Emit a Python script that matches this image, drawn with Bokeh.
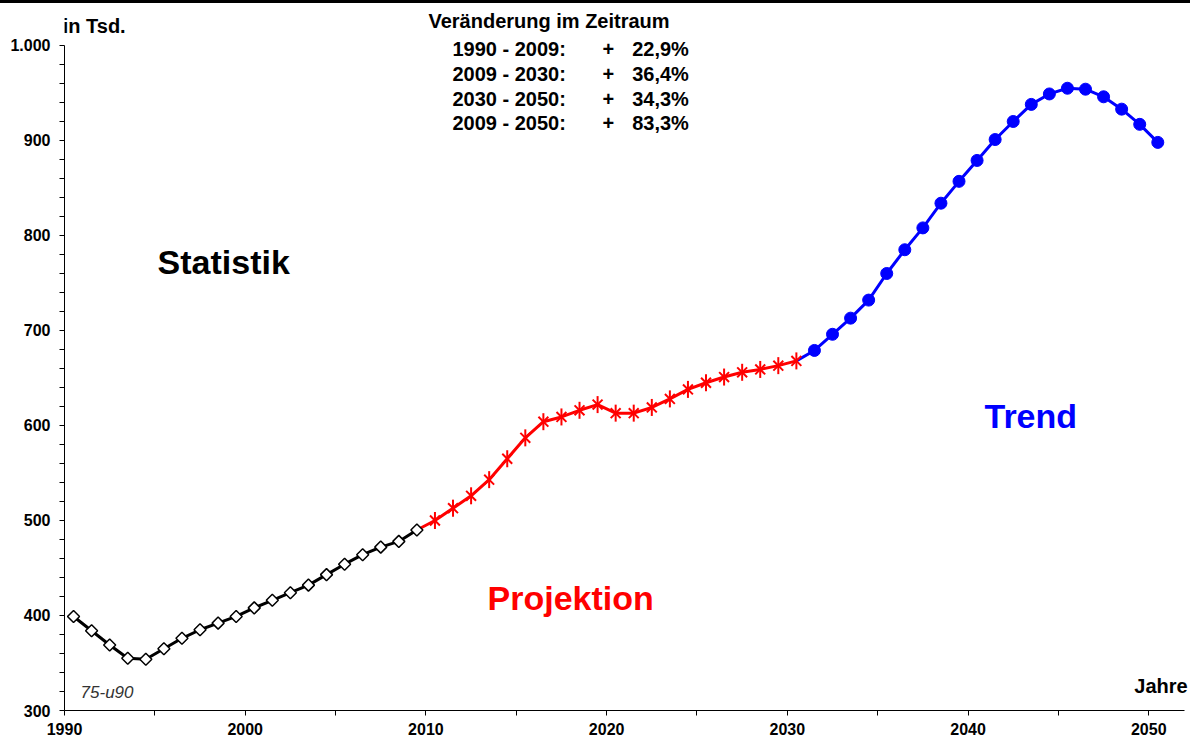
import math
from bokeh.plotting import figure
from bokeh.models import FixedTicker, Label, Range1d, Div
from bokeh.layouts import column
from bokeh.embed import file_html
from bokeh.resources import INLINE

# ---- data (thousands) ----
years_stat = list(range(1990, 2010))
vals_stat = [399, 384, 369, 355, 354, 365, 376, 385, 392, 399,
             408, 416, 424, 432, 443, 454, 464, 472, 478, 490]

years_proj = list(range(2010, 2031))
vals_proj = [500, 513, 526, 543, 565, 587, 604, 609, 616, 622,
             613, 613, 619, 628, 638, 645, 651, 656, 659, 663, 668]

years_trend = list(range(2031, 2051))
vals_trend = [679, 696, 713, 732, 760, 785, 808, 834, 857, 879,
              901, 920, 938, 949, 955, 954, 946, 933, 917, 898]

x_ticks = [1990, 2000, 2010, 2020, 2030, 2040, 2050]
x_minor = [1995, 2005, 2015, 2025, 2035, 2045]
y_ticks = [300, 400, 500, 600, 700, 800, 900, 1000]
y_tick_labels = ["300", "400", "500", "600", "700", "800", "900", "1.000"]

change_periods = ["1990 - 2009:", "2009 - 2030:", "2030 - 2050:", "2009 - 2050:"]
change_values = ["22,9%", "36,4%", "34,3%", "83,3%"]

FONT = "Liberation Sans"

p = figure(width=1190, height=739, output_backend="svg", toolbar_location=None,
           x_range=Range1d(1990, 2052.31), y_range=Range1d(300, 1044.2),
           min_border_left=64, min_border_right=0, min_border_top=0, min_border_bottom=32,
           margin=(0, 0, 0, 0))
p.outline_line_color = None
p.xgrid.visible = False
p.ygrid.visible = False
p.background_fill_color = "white"
p.border_fill_color = "white"

# axes
p.xaxis.ticker = FixedTicker(ticks=x_ticks, minor_ticks=x_minor)
minor_y = [v for v in range(300, 1001, 20) if v % 100 != 0]
p.yaxis.ticker = FixedTicker(ticks=y_ticks, minor_ticks=minor_y)
p.yaxis.major_label_overrides = {t: l for t, l in zip(y_ticks, y_tick_labels)}
p.yaxis.bounds = (300, 1000)
p.xaxis.bounds = (1990, 2051.98)
for ax in (p.xaxis[0], p.yaxis[0]):
    ax.axis_line_color = "black"
    ax.axis_line_width = 1
    ax.major_tick_line_color = "black"
    ax.minor_tick_line_color = "black"
    ax.major_tick_in = 0
    ax.major_tick_out = 5
    ax.minor_tick_in = 0
    ax.minor_tick_out = 5
    ax.major_label_text_font = FONT
    ax.major_label_text_font_style = "bold"
    ax.major_label_text_font_size = "16px"
    ax.major_label_text_color = "black"
p.xaxis.major_label_standoff = 7
p.yaxis.major_label_standoff = 9

# series (points placed mid-year)
xs_stat = [y + 0.5 for y in years_stat]
xs_proj = [y + 0.5 for y in years_proj]
xs_trend = [y + 0.5 for y in years_trend]

p.line(xs_stat, vals_stat, line_color="black", line_width=3)
p.line([xs_stat[-1]] + xs_proj, [vals_stat[-1]] + vals_proj, line_color="#FF0000", line_width=3)
p.line([xs_proj[-1]] + xs_trend, [vals_proj[-1]] + vals_trend, line_color="#0000FF", line_width=3)

p.scatter(xs_stat, vals_stat, marker="square", angle=math.pi / 4, size=8.5,
          fill_color="white", line_color="black", line_width=1.5)
p.scatter(xs_proj, vals_proj, marker="x", size=14, line_color="#FF0000", line_width=2)
p.scatter(xs_proj, vals_proj, marker="dash", angle=math.pi / 2, size=17,
          line_color="#FF0000", line_width=2)
p.scatter(xs_trend, vals_trend, marker="circle", size=12, fill_color="#0000FF",
          line_color="#0000FF")

def lab(x, y, text, size, color="black", style="bold", align="left"):
    p.add_layout(Label(x=x, y=y, text=text, text_font=FONT, text_font_size=size,
                       text_font_style=style, text_color=color, text_align=align,
                       text_baseline="middle"))

lab(1989.9, 1021, "in Tsd.", "20px")
lab(2010.14, 1025.3, "Veränderung im Zeitraum", "20px")
row_y = [996.8, 970.5, 944.2, 917.9]
for ry, per, val in zip(row_y, change_periods, change_values):
    lab(2011.47, ry, per, "20px")
    lab(2020.1, ry, "+", "20px", align="center")
    lab(2024.55, ry, val, "20px", align="right")

lab(1995.15, 771.6, "Statistik", "34px")
lab(2013.41, 418.9, "Projektion", "34px", color="#FF0000")
lab(2040.91, 610, "Trend", "34px", color="#0000FF")
lab(1990.89, 318.9, "75-u90", "17px", color="#333333", style="italic")
lab(2049.2, 326.3, "Jahre", "20px")

top_bar = Div(width=1190, height=3, margin=(0, 0, 0, 0),
              styles={"background-color": "black"})
page = column(top_bar, p, spacing=0, margin=(0, 0, 0, 0))

open("out.html", "w").write(file_html(page, INLINE))
